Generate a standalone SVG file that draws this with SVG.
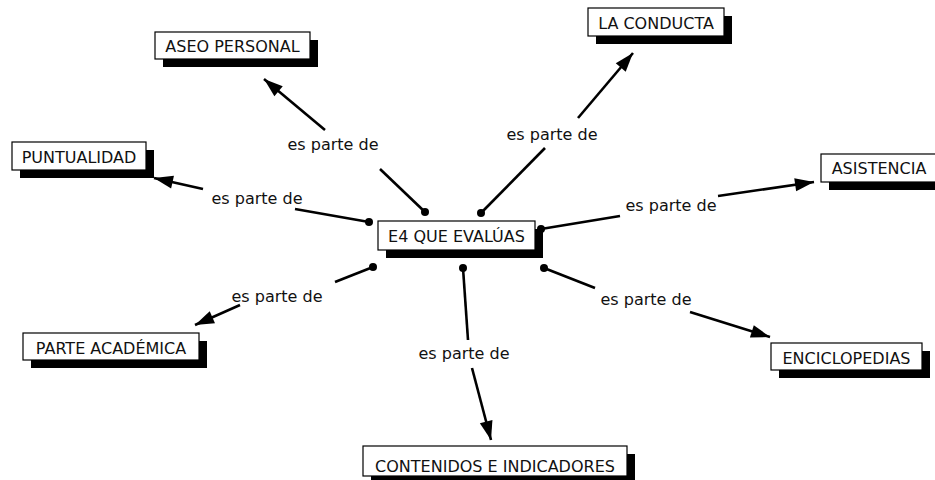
<svg xmlns="http://www.w3.org/2000/svg" width="935" height="480" viewBox="0 0 935 480">
<defs>
<marker id="arr" markerUnits="userSpaceOnUse" markerWidth="22" markerHeight="16" viewBox="-20 -8 22 16" refX="0" refY="0" orient="auto">
<path d="M0,0 L-19,-6.5 L-19,6.5 Z" fill="#000"/>
</marker>
<style>
.sh{fill:#000}
.bx{fill:#fff;stroke:#000;stroke-width:1.2}
.t{font-family:"DejaVu Sans","Liberation Sans",sans-serif;font-size:16px;fill:#111;text-anchor:middle}
.c line{stroke:#000;stroke-width:2.6}
.c line.a{marker-end:url(#arr)}
.c circle{fill:#000}
</style>
</defs>
<rect width="935" height="480" fill="#fff"/>
<g id="connectors" class="c">
<line x1="425" y1="212" x2="380" y2="169"/>
<line class="a" x1="325" y1="130" x2="264" y2="79"/>
<circle cx="425" cy="212" r="4"/>
<line x1="481" y1="213" x2="545" y2="148"/>
<line class="a" x1="578" y1="118" x2="633" y2="53"/>
<circle cx="481" cy="213" r="4"/>
<line x1="369" y1="222" x2="295" y2="209"/>
<line class="a" x1="203" y1="189" x2="154" y2="178"/>
<circle cx="369" cy="222" r="4"/>
<line x1="541" y1="229" x2="620" y2="216"/>
<line class="a" x1="718" y1="196" x2="814" y2="182"/>
<circle cx="541" cy="229" r="4"/>
<line x1="373" y1="267" x2="335" y2="282"/>
<line class="a" x1="240" y1="305" x2="195" y2="325"/>
<circle cx="373" cy="267" r="4"/>
<line x1="463" y1="268" x2="468" y2="340"/>
<line class="a" x1="472" y1="368" x2="491" y2="440"/>
<circle cx="463" cy="268" r="4"/>
<line x1="544" y1="268" x2="595" y2="288"/>
<line class="a" x1="690" y1="312" x2="770" y2="337"/>
<circle cx="544" cy="268" r="4"/>
<text class="t" x="333" y="150">es parte de</text>
<text class="t" x="552" y="140">es parte de</text>
<text class="t" x="257" y="204">es parte de</text>
<text class="t" x="671" y="211">es parte de</text>
<text class="t" x="277" y="302">es parte de</text>
<text class="t" x="464" y="359">es parte de</text>
<text class="t" x="646" y="305">es parte de</text>
</g>
<g id="center">
<rect class="sh" x="386" y="229" width="157" height="29"/>
<rect class="bx" x="378" y="221" width="157" height="29"/>
<text class="t" x="456.5" y="242">E4 QUE EVALÚAS</text>
</g>
<g id="aseo">
<rect class="sh" x="163" y="40" width="155" height="27"/>
<rect class="bx" x="155" y="32" width="155" height="27"/>
<text class="t" x="232.5" y="52">ASEO PERSONAL</text>
</g>
<g id="conducta">
<rect class="sh" x="596" y="16" width="136" height="28"/>
<rect class="bx" x="588" y="8" width="136" height="28"/>
<text class="t" x="656" y="29">LA CONDUCTA</text>
</g>
<g id="puntualidad">
<rect class="sh" x="20" y="150" width="134" height="28"/>
<rect class="bx" x="12" y="142" width="134" height="28"/>
<text class="t" x="79" y="163">PUNTUALIDAD</text>
</g>
<g id="asistencia">
<rect class="sh" x="829" y="162" width="117" height="28"/>
<rect class="bx" x="821" y="154" width="117" height="28"/>
<text class="t" x="879" y="174">ASISTENCIA</text>
</g>
<g id="academica">
<rect class="sh" x="31" y="341" width="176" height="27"/>
<rect class="bx" x="23" y="333" width="176" height="27"/>
<text class="t" x="111" y="354">PARTE ACADÉMICA</text>
</g>
<g id="enciclopedias">
<rect class="sh" x="779" y="351" width="151" height="27"/>
<rect class="bx" x="771" y="343" width="151" height="27"/>
<text class="t" x="846.5" y="364">ENCICLOPEDIAS</text>
</g>
<g id="contenidos">
<rect class="sh" x="371" y="454" width="264" height="30"/>
<rect class="bx" x="363" y="446" width="264" height="30"/>
<text class="t" x="495" y="472">CONTENIDOS E INDICADORES</text>
</g>
</svg>
